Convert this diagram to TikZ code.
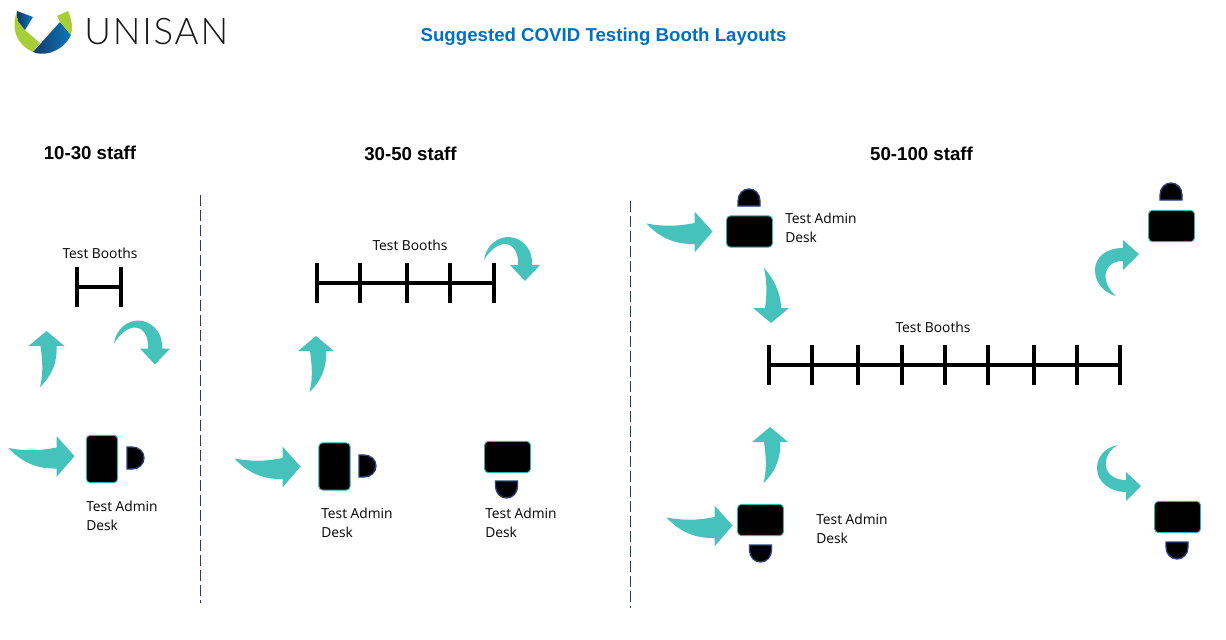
\documentclass[tikz,border=0pt]{standalone}
\usepackage{fontspec}
\setmainfont{Open Sans}
\newfontfamily\headfont{Liberation Sans}
\newfontfamily\logofont[LetterSpace=5]{Lato Light}
\usetikzlibrary{positioning}
\definecolor{flowteal}{HTML}{46C2BC}
\definecolor{deskedge}{HTML}{2FB5AE}
\definecolor{seatedge}{HTML}{2A3F85}
\definecolor{divider}{HTML}{1F3A8C}
\definecolor{titleblue}{HTML}{0070C0}
\definecolor{logogreen}{HTML}{A6CE39}
\definecolor{logonavy}{HTML}{143A66}
\definecolor{logoblue}{HTML}{0B78BE}

\begin{document}
\begin{tikzpicture}[
  x=.75pt, y=-.75pt,
  deskwide/.style={draw=deskedge, fill=black, line width=.7pt, rounded corners=3pt,
    minimum width=34.5pt, minimum height=23.5pt, inner sep=0pt},
  desktall/.style={draw=deskedge, fill=black, line width=.7pt, rounded corners=3pt,
    minimum width=23.5pt, minimum height=35.5pt, inner sep=0pt},
  seatshape/.style={draw=seatedge, fill=black, line width=1pt},
  flow/.style={fill=flowteal, draw=none},
  booth/.style={draw=black, line width=2.6pt},
  divide/.style={draw=divider, line width=.6pt, dash pattern=on 8.25pt off 3pt},
  staffhead/.style={font=\headfont\bfseries\fontsize{14}{16}\selectfont, inner sep=0pt},
  caption/.style={font=\fontsize{10.35}{14.25}\selectfont, align=left, anchor=north west, inner sep=0pt},
  seat/.pic={
    \path[seatshape] (-11,0) -- (-11,-5) .. controls (-11,-12) and (-6,-17) .. (0,-17)
      .. controls (6,-17) and (11,-12) .. (11,-5) -- (11,0) -- cycle;
  },
  swoosh/.pic={
    \path[flow] (0,0) -- (-18,-20) -- (-18,-8.5) .. controls (-35,-5) and (-50,-5) .. (-66,-8)
      .. controls (-53,6) and (-38,13) .. (-18,12.5) -- (-18,21) -- cycle;
  },
  riser/.pic={
    \path[flow] (0,0) -- (18,15) -- (10,15) .. controls (11,32) and (5,45) .. (-6.5,56)
      .. controls (-3,42) and (-4,30) .. (-6,15) -- (-18,15) -- cycle;
  },
  hookover/.pic={
    \path[flow] (0,0) -- (15,-16) -- (7,-16) .. controls (8,-35) and (-6,-44) .. (-17,-44)
      .. controls (-27,-44) and (-39,-36) .. (-41,-21)
      .. controls (-35,-31) and (-27,-37) .. (-20,-37)
      .. controls (-12,-37) and (-6,-28) .. (-7,-16) -- (-15,-16) -- cycle;
  }
]
\useasboundingbox (0,0) rectangle (1226,639);

% logo
\path[fill=logogreen] (17,11) .. controls (12,24) and (13,43) .. (33,52) -- (40,43) -- (25,30) -- cycle;
\path[left color=logonavy, right color=logoblue] (17,11) -- (33,17) -- (25,30) -- (18,21) -- cycle;
\path[left color=logonavy, right color=logoblue] (33,52) -- (60,22) -- (71,35)
  .. controls (65,48) and (48,58) .. (33,52) -- cycle;
\path[fill=logogreen] (57,16) -- (68,11) .. controls (72,20) and (73,28) .. (71,35) -- (60,22) -- cycle;
\node[font=\logofont\fontsize{27.5}{30}\selectfont, text=black!90, inner sep=0pt, anchor=west] (logotext) at (84,32) {UNISAN};

\node[font=\headfont\bfseries\fontsize{14}{16}\selectfont, text=titleblue, inner sep=0pt] (title) at (603.5,37)
  {Suggested COVID Testing Booth Layouts};

\node[staffhead] (headsmall) at (90,153) {10-30 staff};
\node[staffhead] (headmid) at (410.5,154) {30-50 staff};
\node[staffhead] (headlarge) at (921.5,154) {50-100 staff};

\draw[divide] (200,195) -- (200,603);
\draw[divide] (630,201) -- (630,608);

% 10-30 staff
\node[caption, anchor=center] (boothsmall) at (100,253) {Test Booths};
\draw[booth] (77,267) -- (77,307) (121,267) -- (121,307) (77,287) -- (121,287);
\pic at (46.5,331) {riser};
\pic at (155,364.5) {hookover};
\pic at (74.5,456) {swoosh};
\node[desktall] (desksmall) at (102,459) {};
\pic[rotate=-90] at (127,458) {seat};
\node[caption] (labelsmall) at (86,500.5) {Test Admin\\Desk};

% 30-50 staff
\node[caption, anchor=center] (boothmid) at (410,245) {Test Booths};
\draw[booth] (317,263) -- (317,303) (360,263) -- (360,303) (407,263) -- (407,303)
  (450,263) -- (450,303) (494,263) -- (494,303) (317,283) -- (494,283);
\pic at (316,336) {riser};
\pic at (525,281) {hookover};
\pic at (300.5,466.5) {swoosh};
\node[desktall] (deskmida) at (334.5,466.5) {};
\pic[rotate=-90] at (359,466) {seat};
\node[caption] (labelmida) at (321,507.5) {Test Admin\\Desk};
\node[deskwide] (deskmidb) at (507.5,457) {};
\pic[rotate=180] at (506.5,481) {seat};
\node[caption] (labelmidb) at (485,507.5) {Test Admin\\Desk};

% 50-100 staff
\pic at (712.5,231.5) {swoosh};
\node[deskwide] (desklarga) at (749.5,231.5) {};
\pic at (749,206) {seat};
\node[caption] (labellarga) at (785,212.5) {Test Admin\\Desk};
\path[flow] (771,323) -- (789,308) -- (781,308) .. controls (781,295) and (775,280) .. (764,268)
  .. controls (767,282) and (767,295) .. (765,308) -- (753,308) -- cycle;
\node[caption, anchor=center] (boothlarge) at (933,327) {Test Booths};
\draw[booth] (769,345) -- (769,385) (812,345) -- (812,385) (858,345) -- (858,385)
  (902,345) -- (902,385) (945,345) -- (945,385) (988,345) -- (988,385)
  (1034,345) -- (1034,385) (1077,345) -- (1077,385) (1120,345) -- (1120,385)
  (769,365) -- (1120,365);
\pic at (770,427) {riser};
\pic at (732.5,525.5) {swoosh};
\node[deskwide] (desklargb) at (760.5,520) {};
\pic[rotate=180] at (760.5,545) {seat};
\node[caption] (labellargb) at (816,513.5) {Test Admin\\Desk};

\path[flow] (1139,254) -- (1123,240) -- (1123,248) .. controls (1105,248) and (1095,258) .. (1095,270)
  .. controls (1095,284) and (1105,293) .. (1116,296)
  .. controls (1108,289) and (1104,280) .. (1106,272)
  .. controls (1108,265) and (1114,261) .. (1123,261) -- (1123,270) -- cycle;
\node[deskwide] (desklargc) at (1171.5,226) {};
\pic at (1171,200) {seat};

\path[flow] (1141,486) -- (1126,472) -- (1126,480) .. controls (1114,480) and (1107,474) .. (1106,466)
  .. controls (1105,457) and (1110,449) .. (1118,445)
  .. controls (1106,447) and (1097,456) .. (1097,468)
  .. controls (1097,482) and (1110,492) .. (1126,492) -- (1126,501) -- cycle;
\node[deskwide] (desklargd) at (1177.5,517) {};
\pic[rotate=180] at (1177,542) {seat};
\end{tikzpicture}
\end{document}
